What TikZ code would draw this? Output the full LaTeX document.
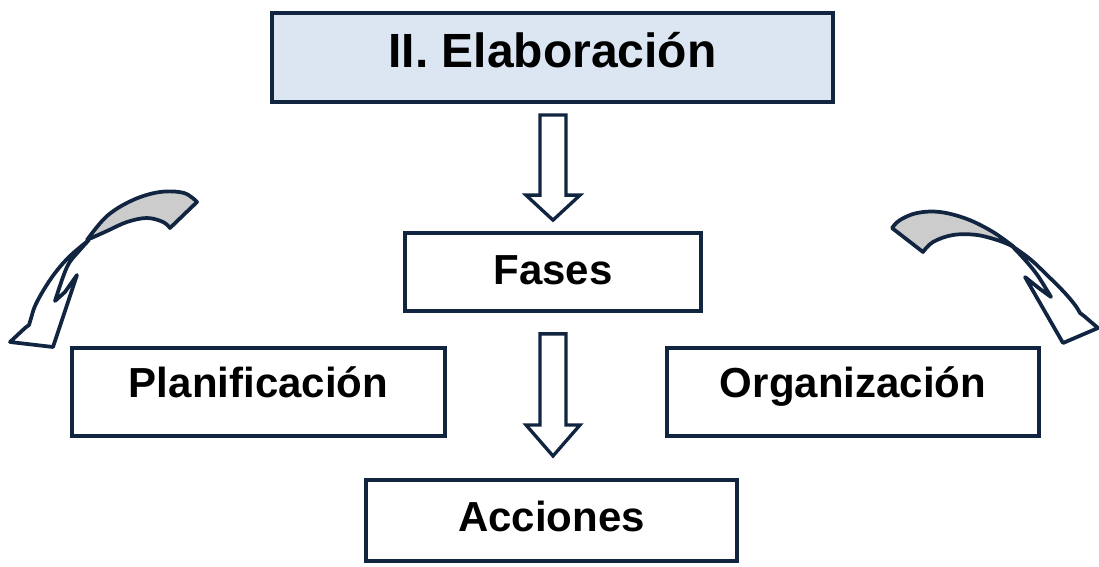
\documentclass[tikz,border=0pt]{standalone}
\usepackage{fontspec}
\setmainfont{Liberation Sans}
\usetikzlibrary{calc}
\definecolor{navy}{RGB}{17,36,64}
\definecolor{titlefill}{RGB}{220,230,242}
\definecolor{tailgray}{RGB}{204,204,204}
\tikzset{
  box/.style={draw=navy, line width=2.8pt, fill=white, inner sep=0pt, align=center,
    font=\bfseries\fontsize{31.5}{34}\selectfont, text height=22.5pt, text depth=0pt},
  blockarrow/.style={draw=navy, line width=2.5pt, fill=white, line join=miter},
  curvearrow/.style={draw=navy, line width=2.8pt, line join=round},
}
\begin{document}
\begin{tikzpicture}[x=0.75pt,y=-0.75pt]
\useasboundingbox (0,0) rectangle (1099,567);
% boxes
\node[box, fill=titlefill, minimum width=421pt, minimum height=67pt,
  font=\bfseries\fontsize{36}{40}\selectfont, text height=25.8pt, text depth=11pt] (title) at (552.5,57.5) {II. Elaboración};
\node[box, minimum width=222pt, minimum height=58.5pt, text depth=4.5pt] (fases) at (553,272) {Fases};
\node[box, minimum width=280pt, minimum height=66pt, text depth=15pt] (plan) at (258.5,392) {Planificación};
\node[box, minimum width=279pt, minimum height=66pt, text depth=15pt] (org) at (853,392) {Organización};
\node[box, minimum width=278pt, minimum height=61pt, text depth=6pt] (acc) at (551.5,520.5) {Acciones};
% straight block arrows
\coordinate (a1s) at ($(title.south)+(0.5,11)$);
\coordinate (a1e) at ($(fases.north)+(0,-11)$);
\draw[blockarrow] ($(a1s)+(-13,0)$) -- ($(a1e)+(-13,-25)$) -- ($(a1e)+(-27,-25)$) -- (a1e)
  -- ($(a1e)+(27,-25)$) -- ($(a1e)+(13,-25)$) -- ($(a1s)+(13,0)$) -- cycle;
\coordinate (a2s) at ($(fases.south)+(0,21)$);
\coordinate (a2e) at ($(acc.north)+(1.5,-22)$);
\draw[blockarrow] ($(a2s)+(-13,0)$) -- ($(a2e)+(-13,-31)$) -- ($(a2e)+(-27,-31)$) -- (a2e)
  -- ($(a2e)+(27,-31)$) -- ($(a2e)+(13,-31)$) -- ($(a2s)+(13,0)$) -- cycle;
% left curved arrow
\filldraw[curvearrow, fill=tailgray]
  plot[smooth, tension=0.6] coordinates {(197,202) (184,193) (160,192) (133,200) (107,216) (87,240)}
  -- plot[smooth, tension=0.6] coordinates {(87,240) (107,231) (127,222) (147,218) (163,222) (170,228)}
  -- cycle;
\filldraw[curvearrow, fill=white]
  plot[smooth, tension=0.6] coordinates {(89,240) (70,256) (55,273) (43,291) (35,306) (32,315)}
  -- (29,325) -- (25,328) -- (10,342) -- (53,347) -- (77,275) -- (65,292) -- (55,301)
  -- plot[smooth, tension=0.6] coordinates {(55,301) (67,267) (79,251) (89,240)};
% right curved arrow
\filldraw[curvearrow, fill=tailgray]
  plot[smooth, tension=0.6] coordinates {(892,228) (900,220) (917,213) (940,212) (967,219) (993,232) (1014,247)}
  -- plot[smooth, tension=0.6] coordinates {(1014,247) (1000,241) (977,235) (953,235) (933,242) (923,252)}
  -- cycle;
\filldraw[curvearrow, fill=white]
  plot[smooth, tension=0.6] coordinates {(1012,246) (1030,259) (1047,275) (1064,292) (1075,305) (1080,313)}
  -- (1084,316) -- (1098,328) -- (1063,343) -- (1025,277) -- (1040,289) -- (1051,297)
  -- plot[smooth, tension=0.6] coordinates {(1051,297) (1038,276) (1026,261) (1012,246)};
\end{tikzpicture}
\end{document}
